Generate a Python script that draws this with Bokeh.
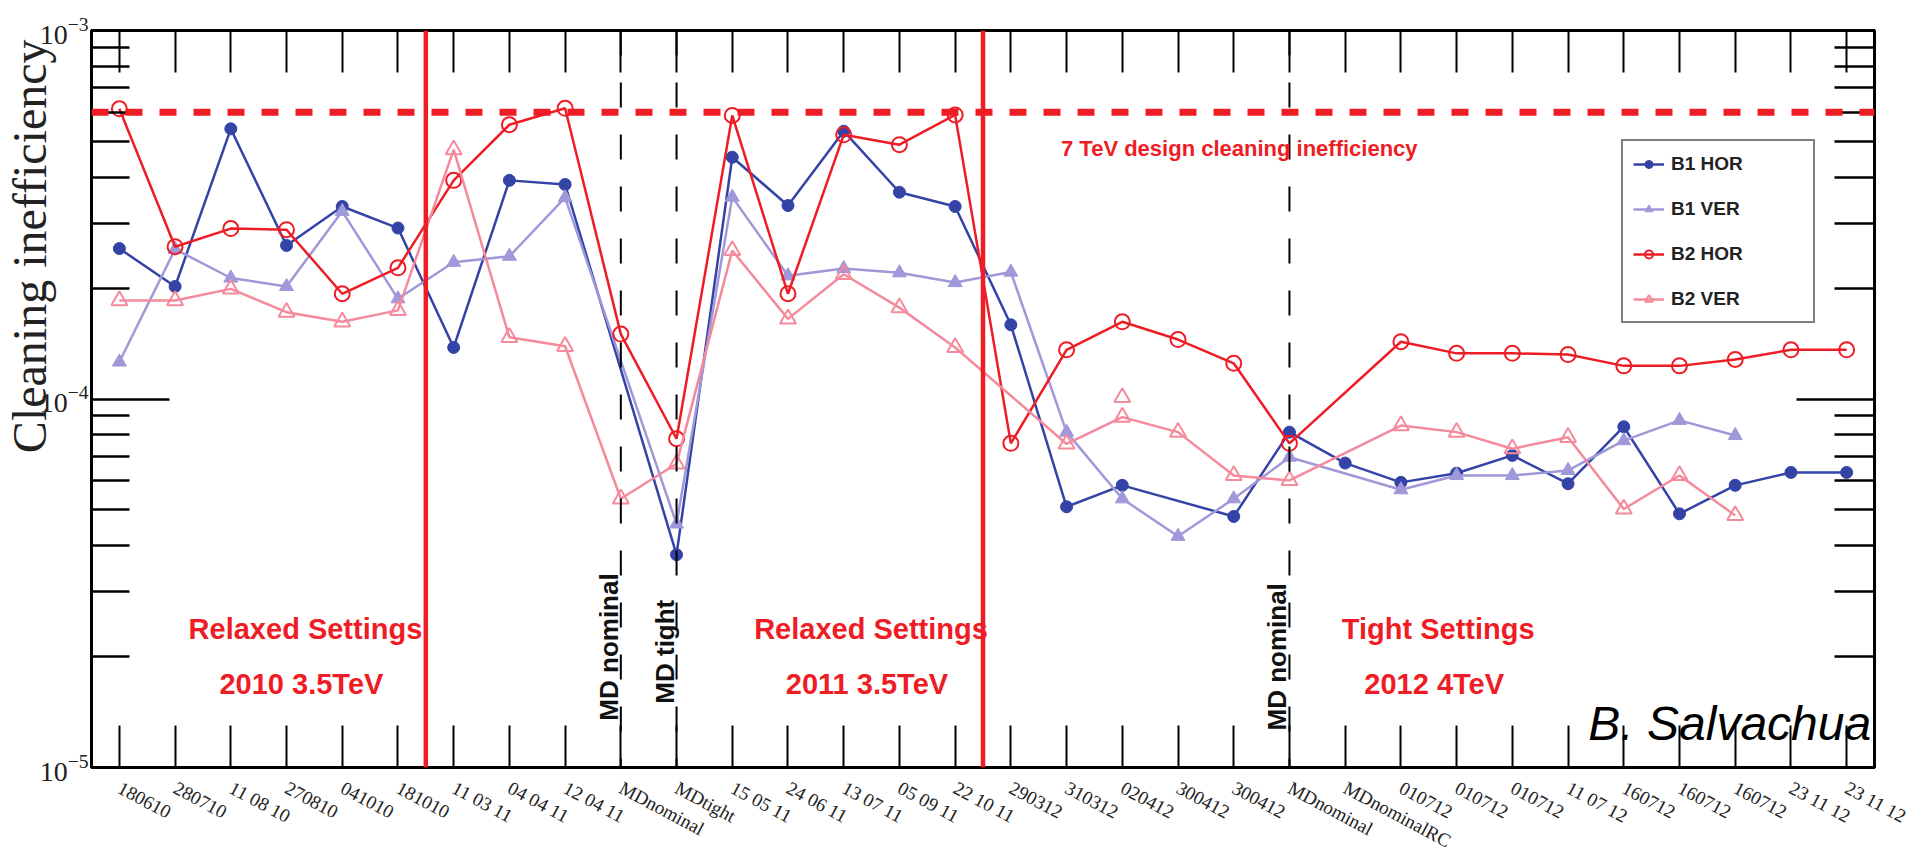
import math
from bokeh.plotting import figure
from bokeh.models import (LinearAxis, LogAxis, FixedTicker, Span, Label, Legend, Title,
                          LegendItem, Range1d, CustomJSTickFormatter, LogTickFormatter)
from bokeh.embed import file_html
from bokeh.resources import INLINE

# ---------------- data ----------------
categories = ["180610", "280710", "11 08 10", "270810", "041010", "181010", "11 03 11",
              "04 04 11", "12 04 11", "MDnominal", "MDtight", "15 05 11", "24 06 11",
              "13 07 11", "05 09 11", "22 10 11", "290312", "310312", "020412", "300412",
              "300412", "MDnominal", "MDnominalRC", "010712", "010712", "010712",
              "11 07 12", "160712", "160712", "160712", "23 11 12", "23 11 12"]

b1_hor = [2.56e-4, 2.02e-4, 5.41e-4, 2.61e-4, 3.33e-4, 2.91e-4, 1.38e-4, 3.92e-4, 3.82e-4,
          None, 3.78e-5, 4.53e-4, 3.35e-4, 5.33e-4, 3.64e-4, 3.33e-4, 1.59e-4, 5.10e-5,
          5.83e-5, None, 4.80e-5, 8.13e-5, 6.70e-5, 5.94e-5, 6.29e-5, 7.03e-5, 5.89e-5,
          8.41e-5, 4.88e-5, 5.83e-5, 6.32e-5, 6.32e-5]
b1_ver = [1.26e-4, 2.55e-4, 2.13e-4, 2.02e-4, 3.23e-4, 1.87e-4, 2.35e-4, 2.44e-4, 3.52e-4,
          None, 4.58e-5, 3.53e-4, 2.16e-4, 2.26e-4, 2.20e-4, 2.07e-4, 2.21e-4, 8.13e-5,
          5.36e-5, 4.24e-5, 5.36e-5, 6.95e-5, None, 5.67e-5, 6.20e-5, 6.20e-5, 6.40e-5,
          7.71e-5, 8.75e-5, 7.96e-5, None, None]
b2_hor = [6.13e-4, 2.59e-4, 2.90e-4, 2.88e-4, 1.93e-4, 2.27e-4, 3.92e-4, 5.55e-4, 6.15e-4,
          1.50e-4, 7.80e-5, 5.88e-4, 1.93e-4, 5.21e-4, 4.90e-4, 5.90e-4, 7.58e-5, 1.36e-4,
          1.62e-4, 1.45e-4, 1.25e-4, 7.58e-5, None, 1.43e-4, 1.33e-4, 1.33e-4, 1.32e-4,
          1.23e-4, 1.23e-4, 1.28e-4, 1.36e-4, 1.36e-4]
b2_ver = [1.85e-4, 1.85e-4, 1.99e-4, 1.72e-4, 1.62e-4, 1.74e-4, 4.75e-4, 1.47e-4, 1.39e-4,
          5.36e-5, 6.67e-5, 2.53e-4, 1.65e-4, 2.18e-4, 1.77e-4, 1.38e-4, None, 7.55e-5,
          8.93e-5, 8.13e-5, 6.20e-5, 6.01e-5, None, 8.47e-5, 8.13e-5, 7.33e-5, 7.87e-5,
          5.03e-5, 6.20e-5, 4.83e-5, None, None]
b2_ver_extra_idx = [18]
b2_ver_extra_val = [1.01e-4]

design_limit = 6e-4
period_boundaries = [5.5, 15.5]
md_positions = [9, 10, 21]
md_texts = ["MD nominal", "MD tight", "MD nominal"]
md_text_y = [1.34e-5, 1.49e-5, 1.26e-5]

region_x = [3.34, 13.49, 23.67]
region_line1 = ["Relaxed Settings", "Relaxed Settings", "Tight Settings"]
region_line2 = ["2010  3.5TeV", "2011  3.5TeV", "2012  4TeV"]
region_y1 = [2.37e-5, 2.37e-5, 2.37e-5]
region_y2 = [1.68e-5, 1.68e-5, 1.68e-5]

series_names = ["B1 HOR", "B1 VER", "B2 HOR", "B2 VER"]
series_colors = ["#3443A6", "#9F98D9", "#EE1D25", "#F48A9C"]
y_title = "Cleaning inefficiency"

RED = "#EE1D25"

# ---------------- figure ----------------
p = figure(width=1911, height=864, y_axis_type="log",
           x_range=Range1d(-0.5, 31.5), y_range=Range1d(1e-5, 1e-3),
           output_backend="svg", toolbar_location=None,
           min_border_left=91, min_border_right=37, min_border_top=30, min_border_bottom=97)
p.xgrid.visible = False
p.ygrid.visible = False
p.outline_line_color = "black"
p.outline_line_width = 3
p.background_fill_color = "white"
p.border_fill_color = "white"

x_ticker = FixedTicker(ticks=list(range(len(categories))))
major_y = [1e-5, 1e-4, 1e-3]
minor_y = [m * 10.0 ** e for e in (-5, -4) for m in range(2, 10)]
y_ticker = FixedTicker(ticks=major_y, minor_ticks=minor_y)

# bottom axis
xa = p.xaxis[0]
xa.ticker = x_ticker
xa.major_label_overrides = {i: c for i, c in enumerate(categories)}
xa.major_label_orientation = -0.49
xa.major_label_text_font = "Liberation Serif"
xa.major_label_text_font_size = "19px"
xa.major_label_text_color = "#222222"
xa.major_label_standoff = 19
xa.major_tick_in = 42
xa.major_tick_out = 0
xa.major_tick_line_width = 2
xa.minor_tick_line_color = None
xa.axis_line_width = 3

# left axis
ya = p.yaxis[0]
ya.ticker = y_ticker
ya.formatter = LogTickFormatter()
ya.major_tick_in = 78
ya.major_tick_out = 0
ya.minor_tick_in = 38
ya.minor_tick_out = 0
ya.major_tick_line_width = 2.5
ya.minor_tick_line_width = 2.5
ya.axis_line_width = 3
ya.major_label_text_font = "Liberation Serif"
ya.major_label_text_font_size = "28px"
ya.major_label_text_color = "#222222"
ya.major_label_standoff = 3

blank = CustomJSTickFormatter(code="return ''")

top_axis = LinearAxis(ticker=x_ticker, formatter=blank, major_tick_in=42, major_tick_out=0,
                      major_tick_line_width=2, minor_tick_line_color=None, axis_line_width=3,
                      major_label_text_font_size="0px", major_label_standoff=0)
p.add_layout(top_axis, "above")
right_axis = LogAxis(ticker=y_ticker, formatter=blank, major_tick_in=78, major_tick_out=0,
                     minor_tick_in=40, minor_tick_out=0, major_tick_line_width=2.5,
                     minor_tick_line_width=2.5, axis_line_width=3,
                     major_label_text_font_size="0px", major_label_standoff=0)
p.add_layout(right_axis, "right")

# y title on the left side, aligned toward the top of the frame
p.add_layout(Title(text=y_title, align="right", offset=9, standoff=-38,
                   text_font="Liberation Serif", text_font_size="48px",
                   text_font_style="normal", text_color="#222222"), "left")

# reference lines
p.add_layout(Span(location=design_limit, dimension="width", line_color=RED,
                  line_width=7, line_dash="17 17"))
for xb in period_boundaries:
    p.add_layout(Span(location=xb, dimension="height", line_color=RED, line_width=4.5))
for xm in md_positions:
    p.add_layout(Span(location=xm, dimension="height", line_color="black",
                      line_width=2, line_dash="25 27"))

# series
def pts(vals):
    xs = [i for i, v in enumerate(vals) if v is not None]
    ys = [v for v in vals if v is not None]
    return xs, ys

items = []
marker_specs = [
    dict(marker="circle", size=12, fill_color=series_colors[0], line_width=1),
    dict(marker="triangle", size=14, fill_color=series_colors[1], line_width=1),
    dict(marker="circle", size=15, fill_color=None, line_width=2),
    dict(marker="triangle", size=16, fill_color=None, line_width=2),
]
for vals, name, col, ms in zip([b1_hor, b1_ver, b2_hor, b2_ver], series_names,
                               series_colors, marker_specs):
    xs, ys = pts(vals)
    lr = p.line(xs, ys, line_color=col, line_width=2.5)
    sr = p.scatter(xs, ys, line_color=col, **ms)
    items.append(LegendItem(label=name, renderers=[lr, sr]))

p.scatter(b2_ver_extra_idx, b2_ver_extra_val, marker="triangle", size=16, fill_color=None,
          line_color=series_colors[3], line_width=2)

legend = Legend(items=items, location=(1530, 444), border_line_color="black",
                border_line_width=2, background_fill_color="white", background_fill_alpha=1,
                label_text_font="Liberation Sans", label_text_font_style="bold",
                label_text_font_size="19px", label_text_color="#222222",
                glyph_width=31, glyph_height=20, label_height=25, label_width=132,
                label_standoff=7, padding=10, spacing=20, margin=0)
p.add_layout(legend, "center")

# annotations
for xm, t, yv in zip(md_positions, md_texts, md_text_y):
    p.add_layout(Label(x=xm, y=yv, x_offset=-12, text=t, angle=math.pi / 2,
                       text_align="left", text_baseline="middle",
                       text_font="Liberation Sans", text_font_style="bold",
                       text_font_size="26px", text_color="#111111"))

for xr, t1, t2, y1, y2 in zip(region_x, region_line1, region_line2, region_y1, region_y2):
    for t, yv in ((t1, y1), (t2, y2)):
        p.add_layout(Label(x=xr, y=yv, text=t, text_align="center",
                           text_baseline="middle", text_font="Liberation Sans",
                           text_font_style="bold", text_font_size="29px", text_color=RED))

p.add_layout(Label(x=16.9, y=4.77e-4, text="7 TeV design cleaning inefficiency",
                   text_align="left", text_baseline="middle",
                   text_font="Liberation Sans", text_font_style="bold",
                   text_font_size="22px", text_color=RED))

p.add_layout(Label(x=31.44, y=1.32e-5, text="B. Salvachua", text_align="right",
                   text_baseline="middle", text_font="Liberation Sans",
                   text_font_style="italic", text_font_size="48px", text_color="black"))

open("out.html", "w").write(file_html(p, INLINE))
